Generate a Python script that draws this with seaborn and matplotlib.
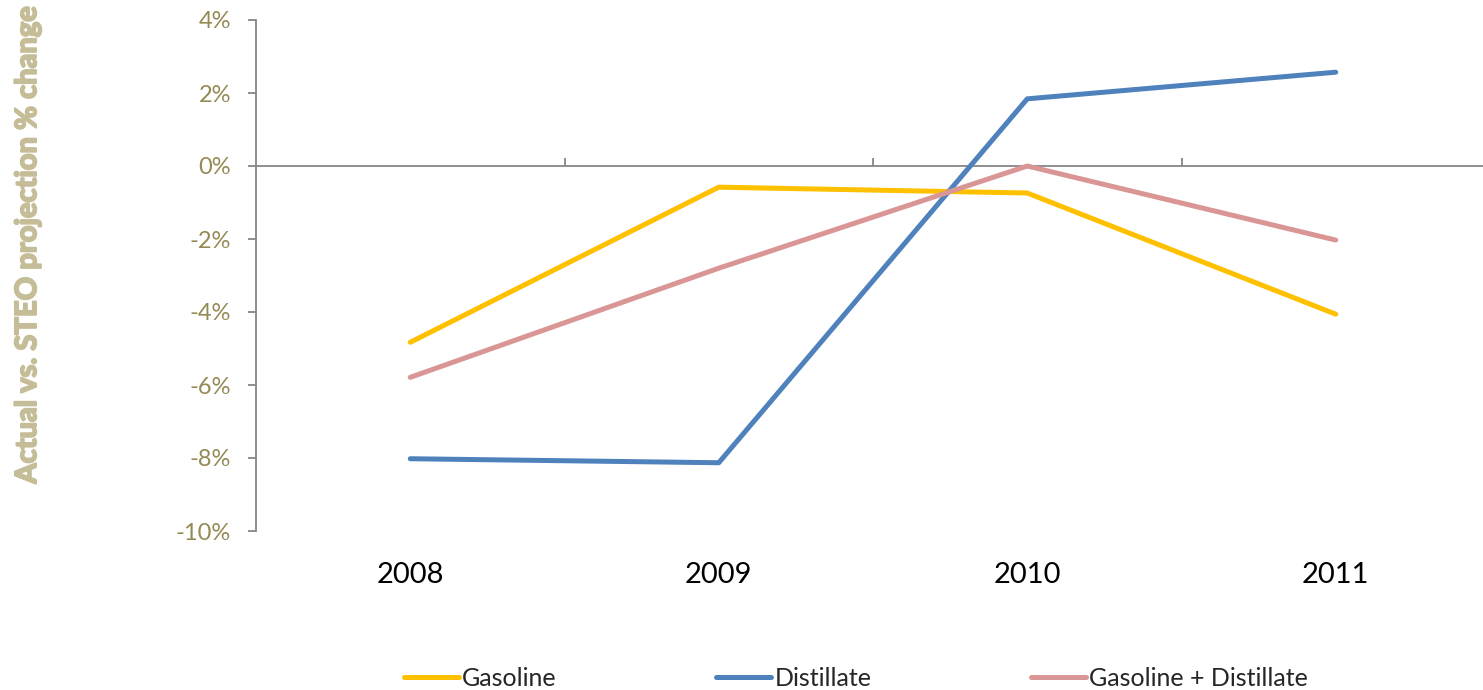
import matplotlib
matplotlib.use("Agg")
import matplotlib.pyplot as plt
import matplotlib.patheffects as pe
import seaborn as sns
import pandas as pd
import numpy as np
from matplotlib.ticker import FuncFormatter
from matplotlib.lines import Line2D

sns.set_theme(style="white")
plt.rcParams['font.family'] = ['Lato', 'DejaVu Sans']

years = ["2008", "2009", "2010", "2011"]
gasoline = [-4.83, -0.58, -0.74, -4.06]
distillate = [-8.02, -8.13, 1.84, 2.57]
combined = [-5.79, -2.80, 0.0, -2.03]
series_names = ["Gasoline", "Distillate", "Gasoline + Distillate"]
colors = {"Gasoline": "#FFC000", "Distillate": "#4F81BD", "Gasoline + Distillate": "#D99694"}

rows = []
for name, vals in zip(series_names, [gasoline, distillate, combined]):
    for i, v in enumerate(vals):
        rows.append({"pos": i, "year": years[i], "value": v, "series": name})
df = pd.DataFrame(rows)

W, H = 1483, 690
fig = plt.figure(figsize=(W / 100, H / 100), dpi=100)
left, right, top, bottom = 256, 1490, 20, 531
ax = fig.add_axes([left / W, 1 - bottom / H, (right - left) / W, (bottom - top) / H])

sns.lineplot(data=df, x="pos", y="value", hue="series", hue_order=series_names,
             palette=colors, linewidth=3.6, ax=ax, legend=False, sort=False,
             solid_capstyle="round")

ax.set_xlim(-0.5, 3.5)
ax.set_ylim(-10, 4)
ax.set_yticks(np.arange(-10, 5, 2))
ax.yaxis.set_major_formatter(FuncFormatter(lambda v, p: f"{int(round(v))}%"))
ax.tick_params(axis="y", which="major", direction="out", length=6, width=1.3,
               color="#868686", labelcolor="#948A54", labelsize=17, pad=12, left=True)
ax.set_xticks(range(len(years)))
ax.set_xticklabels(years)
ax.tick_params(axis="x", which="major", length=0, labelsize=21, labelcolor="black", pad=22)
ax.set_xlabel("")
ax.set_ylabel("")

for s in ["top", "right", "bottom"]:
    ax.spines[s].set_visible(False)
ax.spines["left"].set_color("#868686")
ax.spines["left"].set_linewidth(1.3)

# zero line axis with category-boundary ticks
sec = ax.secondary_xaxis(10 / 14)
for sp in sec.spines.values():
    sp.set_color("#868686")
    sp.set_linewidth(1.3)
sec.set_xticks([0.5, 1.5, 2.5])
sec.set_xticklabels([])
sec.tick_params(axis="x", direction="out", length=6, width=1.3, color="#868686")

ylab_color = "#C4BD97"
fig.text(28 / W, 1 - 245 / H, "Actual vs. STEO projection % change", rotation=90,
         ha="center", va="center", fontsize=21, fontweight="bold", color=ylab_color,
         path_effects=[pe.withStroke(linewidth=1.4, foreground=ylab_color)])

handles = [Line2D([0], [0], color=colors[n], linewidth=3.6, solid_capstyle="round") for n in series_names]
fig.legend(handles, series_names, loc="center", bbox_to_anchor=(856 / W, 1 - 678 / H),
           ncol=3, frameon=False, fontsize=18, handlelength=2.2, handletextpad=0.12,
           columnspacing=6.4, borderpad=0, borderaxespad=0)

fig.savefig("out.png", dpi=100)
